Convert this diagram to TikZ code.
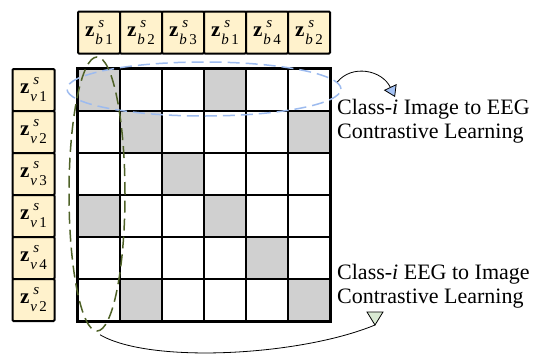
\documentclass[tikz,border=0pt]{standalone}
\usepackage{fontspec}
\setmainfont{Liberation Serif}
\usetikzlibrary{arrows.meta,shapes.geometric}

\definecolor{boxfill}{HTML}{FFF2CC}
\definecolor{cellgray}{HTML}{D0D0D0}
\definecolor{ellblue}{HTML}{9DBBEF}
\definecolor{ellgreen}{HTML}{4F6228}
\definecolor{tipblue}{HTML}{A4C2F4}
\definecolor{tipgreen}{HTML}{D9EAD3}

% bold z with s above and a letter/number index below
\newcommand{\zlab}[2]{\textbf{z}%
	\makebox[0pt][l]{\hspace{4pt}\raisebox{9pt}{\fontsize{15}{15}\selectfont\textit{s}}}%
	\hspace{1pt}\raisebox{-8pt}{\fontsize{15}{15}\selectfont\textit{#1}\,#2}}

\tikzset{
	labbox/.style={draw,line width=2pt,fill=boxfill,rounded corners=1pt,
		minimum width=42pt,minimum height=42pt,inner sep=0pt,
		font=\fontsize{21}{22}\selectfont},
	cell/.style={draw,line width=2pt,minimum width=42pt,minimum height=42pt,inner sep=0pt},
	selring/.style={ellipse,line width=1.5pt,dash pattern=on 12pt off 6pt,inner sep=0pt},
	caption/.style={anchor=west,align=left,inner sep=0pt,font=\fontsize{22}{24}\selectfont}
}

\begin{document}
\begin{tikzpicture}[x=1pt,y=-1pt]
	\useasboundingbox (0,0) rectangle (538,354);

	%IMAGE FEATURES -- TOP ROW
	\foreach \lab [count=\i] in {1,2,3,1,4,2}{
	\node[labbox] (b\i) at (57+42*\i,32.5) {\zlab{b}{\lab}};
	}

	%EEG FEATURES -- LEFT COLUMN
	\foreach \lab [count=\i] in {1,2,3,1,4,2}{
	\node[labbox] (v\i) at (33.5,48+42*\i) {\zlab{v}{\lab}};
	}

	%SIMILARITY GRID
	\foreach \r/\cv in {1/1,2/2,3/3,4/1,5/4,6/2}{
	\foreach \bv [count=\c] in {1,2,3,1,4,2}{
		\ifnum\cv=\bv \def\cc{cellgray}\else\def\cc{white}\fi
		\node[cell,fill=\cc] (c\r\c) at (57+42*\c,48+42*\r) {};
		}
	} %end foreach
	\draw[line width=2.5pt] (c11.north west) rectangle (c66.south east);

	%SELECTIONS
	\node[selring,draw=ellblue,minimum width=274pt,minimum height=54pt] (rowsel) at (204,89) {};
	\node[selring,draw=ellgreen,minimum width=56pt,minimum height=274pt] (colsel) at (97,194) {};

	%ARROWS & LABELS
	\draw[line width=0.8pt,-{Triangle[length=11pt,width=14pt,fill=tipblue]}]
		(rowsel.3) .. controls (352,64) and (382,70) .. (395,97);
	\node[caption] (imgtxt) at (337,121.5) {Class-\textit{i} Image to EEG\\Contrastive Learning};

	\coordinate (gtip) at (375,325);
	\draw[line width=0.8pt] ([xshift=3pt,yshift=-3pt]colsel.south) .. controls (150,364) and (300,356) .. (gtip);
	\filldraw[fill=tipgreen,line width=0.8pt] (gtip) -- ++(-8,-13) -- ++(16,0) -- cycle;
	\node[caption] (eegtxt) at (337,286.5) {Class-\textit{i} EEG to Image\\Contrastive Learning};
\end{tikzpicture}
\end{document}
